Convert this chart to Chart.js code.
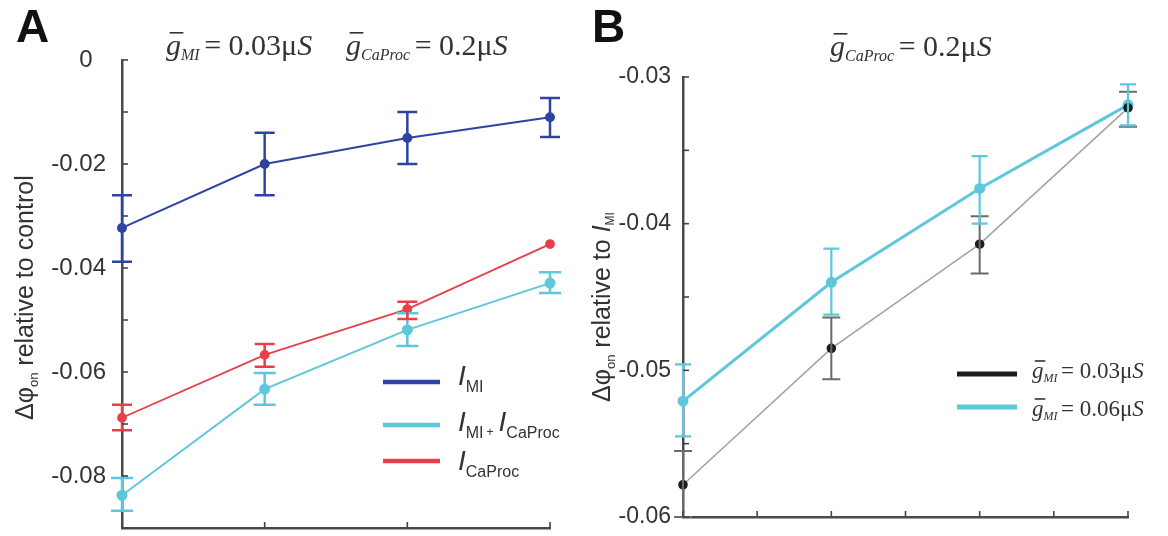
<!DOCTYPE html>
<html><head><meta charset="utf-8">
<script src="https://cdn.jsdelivr.net/npm/chart.js@4"></script>
<style>
html,body{margin:0;padding:0;background:#fff;}
#wrap{position:relative;width:1168px;height:536px;overflow:hidden;}
.pane{position:absolute;top:0;width:584px;height:536px;}
</style></head><body>
<div id="wrap">
<div class="pane" style="left:0"><canvas id="ca" width="584" height="536"></canvas></div>
<div class="pane" style="left:584px"><canvas id="cb" width="584" height="536"></canvas></div>
</div>
<script>
// ---------- DATA ----------
const xPos = [0, 1, 2, 3];

// Panel A
const aMI      = [-0.0323, -0.0200, -0.0150, -0.0110];
const aMILo    = [-0.0388, -0.0260, -0.0200, -0.0148];
const aMIHi    = [-0.0260, -0.0140, -0.0100, -0.0073];
const aBoth    = [-0.0837, -0.0633, -0.0519, -0.0429];
const aBothLo  = [-0.0867, -0.0663, -0.0550, -0.0448];
const aBothHi  = [-0.0804, -0.0602, -0.0487, -0.0408];
const aCa      = [-0.0688, -0.0567, -0.0479, -0.0354];
const aCaLo    = [-0.0712, -0.0590, -0.0498, null];
const aCaHi    = [-0.0663, -0.0546, -0.0465, null];
const aYTicks  = [0, -0.02, -0.04, -0.06, -0.08];

// Panel B
const b003     = [-0.0578, -0.0485, -0.0414, -0.0321];
const b003Lo   = [-0.0600, -0.0506, -0.0434, -0.0334];
const b003Hi   = [-0.0555, -0.0464, -0.0395, -0.0310];
const b006     = [-0.0521, -0.0440, -0.0376, -0.0319];
const b006Lo   = [-0.0545, -0.0462, -0.0400, -0.0333];
const b006Hi   = [-0.0496, -0.0417, -0.0354, -0.0305];
const bYTicks  = [-0.03, -0.04, -0.05, -0.06];

// ---------- STYLE ----------
const C_BLUE = '#2e44a2', C_CYAN = '#5ec7dc', C_RED = '#e8404a', C_BLK = '#1c1c1c', C_GREY = '#a3a3a3';
const SANS = '"Liberation Sans", Arial, sans-serif';
const SERIF = '"Liberation Serif", "Times New Roman", serif';
const TXT = '#333';

function pts(vals){ return vals.map((v,i)=>({x:xPos[i], y:v})); }

function rich(ctx, x, y, segs, color){
  ctx.fillStyle = color; ctx.textBaseline = 'alphabetic'; ctx.textAlign = 'left';
  let cx = x;
  for (const s of segs){
    ctx.font = s.f;
    const w = ctx.measureText(s.t).width;
    ctx.fillText(s.t, cx + (s.dx||0), y + (s.dy||0));
    if (s.bar){
      ctx.save(); ctx.strokeStyle = color; ctx.lineWidth = s.bar.w || 1.6;
      ctx.beginPath(); ctx.moveTo(cx + s.bar.a, y - s.bar.h); ctx.lineTo(cx + s.bar.b, y - s.bar.h); ctx.stroke();
      ctx.restore();
    }
    cx += w + (s.dx||0) + (s.after||0);
  }
  return cx;
}

function gTerm(sub, val, size, subSize){
  return [
    {t:'g', f:`italic ${size}px ${SERIF}`, bar:{a:size*0.12, b:size*0.58, h:size*0.74}},
    {t:sub, f:`italic ${subSize}px ${SERIF}`, dy:subSize*0.3, after:size*0.15},
    {t:'= ' + val, f:`${size}px ${SERIF}`},
    {t:'μ', f:`${size}px ${SERIF}`},
    {t:'S', f:`italic ${size}px ${SERIF}`}
  ];
}

// error bars + inner ticks
const errPlugin = {
  id: 'errbars',
  afterDatasetsDraw(chart, args, opts){
    const ctx = chart.ctx, xs = chart.scales.x, ys = chart.scales.y;
    for (const b of (opts.bars || [])){
      ctx.save(); ctx.strokeStyle = b.color; ctx.lineWidth = b.width;
      xPos.forEach((xv, i) => {
        if (b.lo[i] == null) return;
        const px = xs.getPixelForValue(xv);
        const p1 = ys.getPixelForValue(b.lo[i]), p2 = ys.getPixelForValue(b.hi[i]);
        ctx.beginPath();
        ctx.moveTo(px, p1); ctx.lineTo(px, p2);
        ctx.moveTo(px - b.cap, p1); ctx.lineTo(px + b.cap, p1);
        ctx.moveTo(px - b.cap, p2); ctx.lineTo(px + b.cap, p2);
        ctx.stroke();
      });
      ctx.restore();
    }
  },
  afterDraw(chart){
    const ctx = chart.ctx, xs = chart.scales.x, ys = chart.scales.y, a = chart.chartArea;
    ctx.save(); ctx.strokeStyle = '#444'; ctx.lineWidth = 1.6;
    ys.ticks.forEach(t => { const p = ys.getPixelForValue(t.value); ctx.beginPath(); ctx.moveTo(a.left, p); ctx.lineTo(a.left + 6, p); ctx.stroke(); });
    xs.ticks.forEach(t => { const p = xs.getPixelForValue(t.value); ctx.beginPath(); ctx.moveTo(p, a.bottom); ctx.lineTo(p, a.bottom - 6); ctx.stroke(); });
    ctx.restore();
  }
};

function yLabel(ticksList, decimals){
  return function(v){
    const hit = ticksList.find(t => Math.abs(t - v) < 1e-6);
    if (hit === undefined) return '';
    if (hit === 0) return '0  ';
    return hit.toFixed(decimals);
  };
}

function baseOptions(p){
  return {
    responsive: false, animation: false,
    layout: {padding: p.pad},
    plugins: {legend: {display:false}, tooltip: {enabled:false}, title: {display:false}, errbars: {bars: p.bars}},
    scales: {
      x: {type:'linear', min:0, max:3,
          ticks:{display:false, stepSize:p.xStep},
          grid:{display:false},
          border:{display:true, color:'#4a4a4a', width:2.5},
          afterFit: s => { s.height = p.xH; s.paddingLeft = 0; s.paddingRight = 0; }},
      y: {type:'linear', min:p.yMin, max:p.yMax,
          ticks:{stepSize:p.yStep, autoSkip:false, padding:p.tickPad, color:TXT, font:{family:SANS, size:p.tickSize},
                 callback: yLabel(p.yTicks, 2)},
          grid:{display:false},
          border:{display:true, color:'#4a4a4a', width:2.5},
          afterFit: s => { s.width = p.yW; s.paddingTop = 0; s.paddingBottom = 0; }}
    }
  };
}

// ---------- PANEL A ----------
const textA = {
  id:'textA',
  afterDraw(chart){
    const ctx = chart.ctx;
    ctx.save();
    ctx.fillStyle = '#111'; ctx.font = `bold 46px ${SANS}`; ctx.textBaseline='alphabetic';
    ctx.fillText('A', 16, 42);
    rich(ctx, 166, 55, gTerm('MI', '0.03', 30, 16), '#333');
    rich(ctx, 346, 55, gTerm('CaProc', '0.2', 30, 16), '#333');
    // y title
    ctx.save(); ctx.translate(33, 420); ctx.rotate(-Math.PI/2);
    rich(ctx, 0, 0, [
      {t:'Δφ', f:`25px ${SANS}`},
      {t:'on', f:`13px ${SANS}`, dy:5},
      {t:' relative to control', f:`25px ${SANS}`}
    ], TXT);
    ctx.restore();
    // legend
    const rows = [
      {c:C_BLUE, y:382, yb:385, segs:[{t:'I', f:`italic 28px ${SANS}`},{t:'MI', f:`16px ${SANS}`, dy:7}]},
      {c:C_CYAN, y:425, yb:431, segs:[{t:'I', f:`italic 28px ${SANS}`},{t:'MI', f:`16px ${SANS}`, dy:7, after:3},{t:'+', f:`12px ${SANS}`, dy:5, after:5},{t:'I', f:`italic 28px ${SANS}`},{t:'CaProc', f:`16px ${SANS}`, dy:7}]},
      {c:C_RED, y:461, yb:470, segs:[{t:'I', f:`italic 28px ${SANS}`},{t:'CaProc', f:`16px ${SANS}`, dy:7}]}
    ];
    rows.forEach(r => {
      ctx.strokeStyle = r.c; ctx.lineWidth = 4.5;
      ctx.beginPath(); ctx.moveTo(383, r.y); ctx.lineTo(440, r.y); ctx.stroke();
      rich(ctx, 458, r.yb, r.segs, TXT);
    });
    ctx.restore();
  }
};

new Chart(document.getElementById('ca'), {
  type: 'line',
  data: {datasets: [
    {data: pts(aMI), borderColor:C_BLUE, backgroundColor:C_BLUE, borderWidth:2, pointRadius:4, tension:0, clip:false},
    {data: pts(aBoth), borderColor:C_CYAN, backgroundColor:C_CYAN, borderWidth:2, pointRadius:4.5, tension:0, clip:false},
    {data: pts(aCa), borderColor:C_RED, backgroundColor:C_RED, borderWidth:1.8, pointRadius:4, tension:0, clip:false}
  ]},
  options: baseOptions({
    pad:{left:0, right:34, top:60, bottom:0}, xStep:1, xH:8, yW:122, tickPad:8, tickSize:24,
    yMin:-0.09, yMax:0, yStep:0.01, yTicks:aYTicks,
    bars:[
      {lo:aMILo, hi:aMIHi, color:C_BLUE, width:2.5, cap:10},
      {lo:aBothLo, hi:aBothHi, color:C_CYAN, width:2.5, cap:11},
      {lo:aCaLo, hi:aCaHi, color:C_RED, width:2.5, cap:10}
    ]
  }),
  plugins: [errPlugin, textA]
});

// ---------- PANEL B ----------
const textB = {
  id:'textB',
  afterDraw(chart){
    const ctx = chart.ctx;
    ctx.save();
    ctx.fillStyle = '#111'; ctx.font = `bold 46px ${SANS}`; ctx.textBaseline='alphabetic';
    ctx.fillText('B', 8, 42);
    rich(ctx, 246, 56, gTerm('CaProc', '0.2', 30, 16), '#333');
    ctx.save(); ctx.translate(26, 402); ctx.rotate(-Math.PI/2);
    rich(ctx, 0, 0, [
      {t:'Δφ', f:`25px ${SANS}`},
      {t:'on', f:`13px ${SANS}`, dy:5},
      {t:' relative to ', f:`25px ${SANS}`},
      {t:'I', f:`italic 25px ${SANS}`},
      {t:'MI', f:`12px ${SANS}`, dy:4}
    ], TXT);
    ctx.restore();
    const rows = [
      {c:C_BLK, y:374, yb:378, v:'0.03'},
      {c:C_CYAN, y:407, yb:416, v:'0.06'}
    ];
    rows.forEach(r => {
      ctx.strokeStyle = r.c; ctx.lineWidth = 5;
      ctx.beginPath(); ctx.moveTo(373, r.y); ctx.lineTo(433, r.y); ctx.stroke();
      rich(ctx, 448, r.yb, gTerm('MI', r.v, 23, 12), '#333');
    });
    ctx.restore();
  }
};

new Chart(document.getElementById('cb'), {
  type: 'line',
  data: {datasets: [
    {data: pts(b003), borderColor:C_GREY, backgroundColor:C_BLK, pointBorderColor:C_BLK, borderWidth:1.6, pointRadius:4, tension:0, clip:false},
    {data: pts(b006), borderColor:C_CYAN, backgroundColor:C_CYAN, borderWidth:3, pointRadius:4, tension:0, clip:false}
  ]},
  options: baseOptions({
    pad:{left:0, right:40, top:77, bottom:0}, xStep:0.5, xH:19, yW:99, tickPad:4, tickSize:23,
    yMin:-0.06, yMax:-0.03, yStep:0.005, yTicks:bYTicks,
    bars:[
      {lo:b003Lo, hi:b003Hi, color:'#6a6a6a', width:2, cap:9},
      {lo:b006Lo, hi:b006Hi, color:C_CYAN, width:2.2, cap:8}
    ]
  }),
  plugins: [errPlugin, textB]
});
</script>
</body></html>
